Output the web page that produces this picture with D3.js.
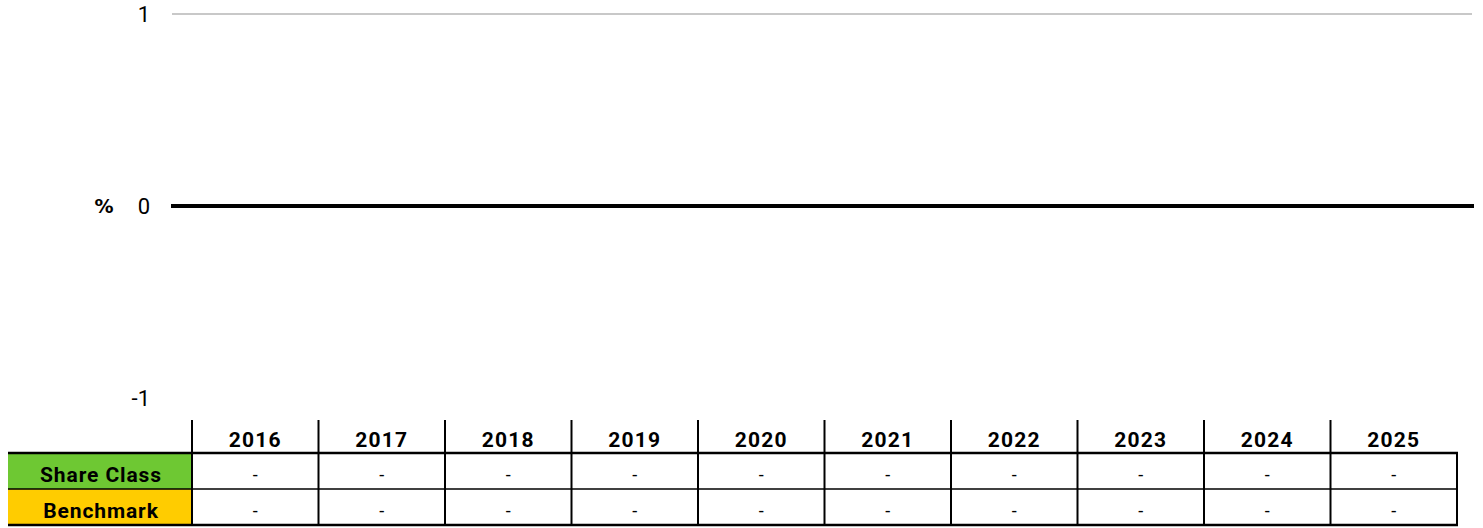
<!DOCTYPE html>
<html>
<head>
<meta charset="utf-8">
<script src="https://cdn.jsdelivr.net/npm/d3@7"></script>
<style>
  body { margin: 0; background: #fff; }
  svg { display: block; font-family: Roboto, "Liberation Sans", sans-serif; }
</style>
</head>
<body>
<svg id="chart" width="1483" height="528"></svg>
<script>
'use strict'

const years = ['2016', '2017', '2018', '2019', '2020', '2021', '2022', '2023', '2024', '2025']
const shareClass = [null, null, null, null, null, null, null, null, null, null]
const benchmark = [null, null, null, null, null, null, null, null, null, null]
const yTicks = [1, 0, -1]
const rowNames = ['Share Class', 'Benchmark']
const rowColors = ['#6ec833', '#ffcc00']

const svg = d3.select('#chart')

const y = d3.scaleLinear().domain([-1, 1]).range([398, 14])
const x = d3.scaleBand().domain(years).range([192, 1457])

// gridline at the top tick
svg.selectAll('line.grid')
  .data(yTicks.filter(d => d > 0))
  .enter()
  .append('line')
  .attr('class', 'grid')
  .attr('x1', 172)
  .attr('x2', 1472)
  .attr('y1', d => y(d))
  .attr('y2', d => y(d))
  .attr('stroke', '#c8c8c8')
  .attr('stroke-width', 2)

svg.append('line')
  .attr('x1', 171)
  .attr('x2', 1474)
  .attr('y1', y(0))
  .attr('y2', y(0))
  .attr('stroke', '#000')
  .attr('stroke-width', 4)

svg.selectAll('text.tick')
  .data(yTicks)
  .enter()
  .append('text')
  .attr('class', 'tick')
  .attr('x', 150)
  .attr('y', d => y(d))
  .attr('dy', '0.36em')
  .attr('text-anchor', 'end')
  .attr('font-size', 22)
  .text(d => d)

svg.append('text')
  .attr('x', 104)
  .attr('y', y(0) + 7)
  .attr('text-anchor', 'middle')
  .attr('font-family', '"DejaVu Sans", sans-serif')
  .attr('font-size', 19)
  .attr('font-weight', 'bold')
  .text('%')

// table
const headTop = 420
const rowTop = [453, 489]
const rowH = 36
const tableBottom = 525

svg.selectAll('rect.rowlabel')
  .data(rowNames)
  .enter()
  .append('rect')
  .attr('x', 8)
  .attr('y', (d, i) => rowTop[i])
  .attr('width', 184)
  .attr('height', rowH)
  .attr('fill', (d, i) => rowColors[i])

svg.selectAll('text.rowlabel')
  .data(rowNames)
  .enter()
  .append('text')
  .attr('x', 101)
  .attr('y', (d, i) => rowTop[i] + 29)
  .attr('text-anchor', 'middle')
  .attr('font-size', 21)
  .attr('font-weight', 'bold')
  .attr('letter-spacing', 0.9)
  .text(d => d)

svg.selectAll('text.year')
  .data(years)
  .enter()
  .append('text')
  .attr('x', d => x(d) + x.bandwidth() / 2)
  .attr('y', 447)
  .attr('text-anchor', 'middle')
  .attr('font-size', 21)
  .attr('font-weight', 'bold')
  .attr('letter-spacing', 1.2)
  .text(d => d)

const rows = [shareClass, benchmark]
rows.forEach((vals, r) => {
  svg.selectAll('text.val' + r)
    .data(vals)
    .enter()
    .append('text')
    .attr('x', (d, i) => x(years[i]) + x.bandwidth() / 2)
    .attr('y', rowTop[r] + 28)
    .attr('text-anchor', 'middle')
    .attr('font-size', 18)
    .text(d => d == null ? '-' : d.toFixed(2))
})

// vertical lines
const vx = years.map(d => x(d)).concat([x.range()[1]])
svg.selectAll('line.v')
  .data(vx)
  .enter()
  .append('line')
  .attr('x1', d => d)
  .attr('x2', d => d)
  .attr('y1', (d, i) => i === vx.length - 1 ? rowTop[0] : headTop)
  .attr('y2', tableBottom)
  .attr('stroke', '#000')
  .attr('stroke-width', 2)

// horizontal lines
svg.selectAll('line.h')
  .data([rowTop[0], rowTop[1], tableBottom])
  .enter()
  .append('line')
  .attr('x1', 8)
  .attr('x2', 1458)
  .attr('y1', d => d)
  .attr('y2', d => d)
  .attr('stroke', '#000')
  .attr('stroke-width', d => d === rowTop[1] ? 1.5 : 2.5)
</script>
</body>
</html>
